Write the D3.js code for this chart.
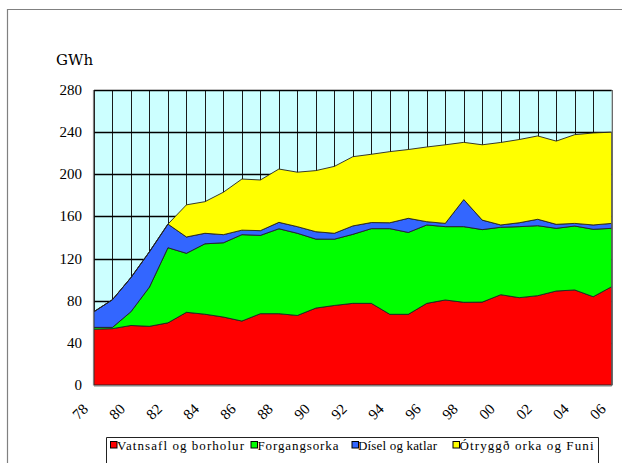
<!DOCTYPE html>
<html><head><meta charset="utf-8">
<script src="https://cdn.jsdelivr.net/npm/d3@7"></script>
<style>body{margin:0;background:#fff;overflow:hidden}</style>
</head><body><svg id="c" width="622" height="463" xmlns="http://www.w3.org/2000/svg"></svg>
<script>
const years = [1978,1979,1980,1981,1982,1983,1984,1985,1986,1987,1988,1989,1990,1991,1992,1993,1994,1995,1996,1997,1998,1999,2000,2001,2002,2003,2004,2005,2006];
const vatnsafl     = [53,53.5,56.5,55.7,59,69,67.2,64.5,60.7,67.7,67.7,66,73,75.5,77.5,77.5,67.1,67.1,77.5,80.7,78.5,78.7,85.7,82.9,84.8,89.2,90.2,83.8,93.3];
const forgangsorka = [1.7,1.2,13.1,37.3,71.3,56,66.8,70.5,82,74.3,80.6,78,65.5,62.9,65.5,70.9,81.3,77.7,74.4,69.6,71.8,68.8,64,67.4,66.4,59.5,60.7,64,55.4];
const disel        = [14.9,26.3,32.4,33.5,22.4,15.5,10,7.7,4.3,4.5,6.1,6.3,7,5.6,8,5.8,5.6,13.4,3.1,3.1,25.7,9,2.2,3.7,6.1,3.8,2.5,4.1,4.7];
const otryggd      = [0,0,0,0,0,30.5,30,40.3,48.5,48.1,50.6,51.7,58,63.5,65.7,64.8,67.5,65.3,70.9,74.6,54.3,71.5,78.3,79,79.1,79,84.2,87.3,86.6];
const seriesNames  = ["Vatnsafl og borholur","Forgangsorka","Dísel og katlar","Ótryggð orka og Funi"];
const seriesColors = ["#ff0000","#00ff00","#3366ff","#ffff00"];
const yTicks = [0,40,80,120,160,200,240,280];
const xTickYears = [1978,1980,1982,1984,1986,1988,1990,1992,1994,1996,1998,2000,2002,2004,2006];
const unitLabel = "GWh";

const svg = d3.select("#c");
const L = 94, R = 611.7, T = 90, B = 385;
const x = d3.scaleLinear().domain([1978,2006]).range([L,R]);
const y = d3.scaleLinear().domain([0,280]).range([B,T]);

svg.append("path").attr("d","M7.5,470 V9.5 H630").attr("fill","none").attr("stroke","#808080").attr("stroke-width",1.2);
svg.append("rect").attr("x",L).attr("y",T).attr("width",R-L).attr("height",B-T).attr("fill","#ccffff");

svg.append("g").selectAll("line").data(years).join("line")
  .attr("x1",d=>Math.round(x(d))+0.5).attr("x2",d=>Math.round(x(d))+0.5)
  .attr("y1",T).attr("y2",B).attr("stroke","#1a1a1a").attr("stroke-width",1);
svg.append("g").selectAll("line").data(yTicks).join("line")
  .attr("x1",L).attr("x2",R).attr("y1",d=>Math.round(y(d))+0.5).attr("y2",d=>Math.round(y(d))+0.5)
  .attr("stroke","#000").attr("stroke-width",1.4);

const rows = years.map((yr,i)=>({year:yr, a:vatnsafl[i], b:forgangsorka[i], c:disel[i], d:otryggd[i]}));
const stack = d3.stack().keys(["a","b","c","d"])(rows);
const area = d3.area().x(d=>x(d.data.year)).y0(d=>y(d[0])).y1(d=>y(d[1]));
svg.append("g").selectAll("path").data(stack).join("path")
  .attr("d",area).attr("fill",(d,i)=>seriesColors[i])
  .attr("stroke","#222").attr("stroke-width",0.9).attr("stroke-linejoin","round");

svg.append("line").attr("x1",L).attr("x2",R).attr("y1",T+0.5).attr("y2",T+0.5).attr("stroke","#000").attr("stroke-width",1.2);
svg.append("line").attr("x1",L-0.5).attr("x2",L-0.5).attr("y1",T).attr("y2",B+0.5).attr("stroke","#808080").attr("stroke-width",1.2);
svg.append("line").attr("x1",R+0.5).attr("x2",R+0.5).attr("y1",T).attr("y2",B+0.5).attr("stroke","#808080").attr("stroke-width",1.2);
svg.append("line").attr("x1",L).attr("x2",R).attr("y1",B+0.5).attr("y2",B+0.5).attr("stroke","#808080").attr("stroke-width",1.2);

// y labels (test: Liberation Serif)
svg.append("g").selectAll("text").data(yTicks).join("text")
  .attr("x",82).attr("y",d=>y(d)+5).attr("text-anchor","end")
  .style("font-family","'Liberation Serif'").style("font-size","15px").text(d=>d);
// GWh (test: DejaVu Serif)
svg.append("text").attr("x",56).attr("y",65).style("font-family","'DejaVu Serif'").style("font-size","15px").text(unitLabel);

// x labels in rotated groups (test: Times New Roman)
svg.append("g").selectAll("g").data(xTickYears).join("g")
  .attr("transform",d=>"translate(" + (x(d)-5) + ",410) rotate(-45)")
  .append("text").attr("text-anchor","end")
  .style("font-family","'Times New Roman'").style("font-size","15px")
  .text(d=>String(d%100).padStart(2,"0"));

// legend (test: serif generic)
svg.append("path").attr("d","M106.5,470 V437.5 H598.5 V470").attr("fill","none").attr("stroke","#222").attr("stroke-width",1);
const sw = [110.5,251,352,453];
const tx = [117,257.5,358,459.5];
const tw = [127,81,79,134];
const lg = svg.append("g");
seriesNames.forEach((n,i)=>{
  lg.append("rect").attr("x",sw[i]).attr("y",441.5).attr("width",6.5).attr("height",6.5)
    .attr("fill",seriesColors[i]).attr("stroke","#000").attr("stroke-width",1);
  lg.append("text").attr("x",tx[i]).attr("y",449.5).style("font-family","serif").style("font-size","13px")
    .attr("textLength",tw[i]).attr("lengthAdjust","spacing").text(n);
});
</script>
</body></html>
